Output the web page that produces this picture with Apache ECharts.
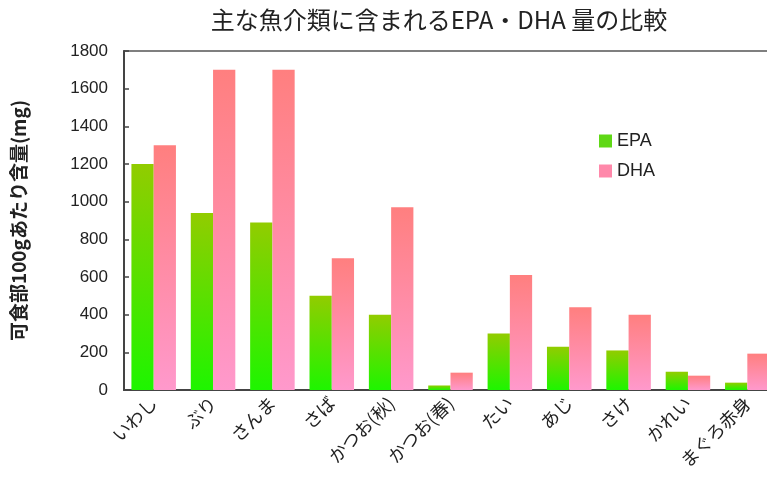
<!DOCTYPE html>
<html>
<head>
<meta charset="utf-8">
<script src="https://cdn.jsdelivr.net/npm/echarts@6/dist/echarts.min.js"></script>
<style>
  html, body { margin: 0; padding: 0; background: #fff; overflow: hidden; }
  /* the plot's frame runs a little past the right edge of the window */
  #chart { width: 777px; height: 495px; }
</style>
</head>
<body>
<div id="chart"></div>
<script>
// 可食部100gあたりのEPA・DHA含量 (mg)
const categories = ['いわし', 'ぶり', 'さんま', 'さば', 'かつお(秋)', 'かつお(春)', 'たい', 'あじ', 'さけ', 'かれい', 'まぐろ赤身'];
const epaValues = [1200, 940, 890, 500, 400, 24, 300, 230, 210, 97, 39];
const dhaValues = [1300, 1700, 1700, 700, 970, 92, 610, 440, 400, 76, 193];

const titleText = '主な魚介類に含まれるEPA・DHA 量の比較';
const yAxisName = '可食部100gあたり含量(mg)';

const fontLatin = '"Liberation Sans", Arial, sans-serif';
const fontJp = '"Noto Sans CJK JP", sans-serif';

function grad(top, bottom) {
  return new echarts.graphic.LinearGradient(0, 0, 0, 1, [
    { offset: 0, color: top },
    { offset: 1, color: bottom }
  ]);
}

const chart = echarts.init(document.getElementById('chart'), null, { renderer: 'canvas' });
chart.setOption({
  backgroundColor: '#ffffff',
  animation: false,
  title: {
    text: titleText,
    left: 434,
    textAlign: 'center',
    top: 3,
    textStyle: { fontFamily: fontJp, fontSize: 24, fontWeight: 'normal', color: '#222' }
  },
  legend: {
    left: 594,
    top: 127,
    orient: 'vertical',
    itemWidth: 13,
    itemHeight: 13,
    itemGap: 12,
    icon: 'rect',
    textStyle: { fontFamily: fontLatin, fontSize: 18, color: '#222' },
    data: [
      { name: 'EPA', itemStyle: { color: '#5fd816' } },
      { name: 'DHA', itemStyle: { color: '#ff88aa' } }
    ]
  },
  grid: {
    left: 124,
    top: 51,
    bottom: 105,
    right: 0,
    show: true,
    borderColor: '#555',
    borderWidth: 1.5,
    backgroundColor: '#ffffff'
  },
  xAxis: {
    type: 'category',
    data: categories,
    axisLine: { lineStyle: { color: '#444', width: 2 } },
    axisTick: { inside: true, length: 5, lineStyle: { color: '#444', width: 2 } },
    axisLabel: {
      rotate: 45,
      interval: 0,
      margin: 10,
      fontFamily: fontJp,
      fontSize: 18,
      color: '#222'
    }
  },
  yAxis: {
    type: 'value',
    min: 0,
    max: 1800,
    interval: 200,
    name: yAxisName,
    nameLocation: 'middle',
    nameGap: 96,
    nameTextStyle: { fontFamily: fontJp, fontSize: 19, fontWeight: 'bold', color: '#222' },
    axisLine: { show: true, lineStyle: { color: '#444', width: 2 } },
    axisTick: { show: true, inside: true, length: 5, lineStyle: { color: '#444', width: 1.5 } },
    splitLine: { show: false },
    axisLabel: {
      fontFamily: fontLatin,
      fontSize: 17,
      color: '#222',
      margin: 16,
      formatter: function (v) { return String(v); }
    }
  },
  series: [
    {
      name: 'EPA',
      type: 'bar',
      data: epaValues,
      barGap: '0%',
      barCategoryGap: '25%',
      itemStyle: { color: grad('#92cc00', '#1ef500') }
    },
    {
      name: 'DHA',
      type: 'bar',
      data: dhaValues,
      itemStyle: { color: grad('#ff7f7f', '#ff99cc') }
    }
  ]
});
</script>
</body>
</html>
